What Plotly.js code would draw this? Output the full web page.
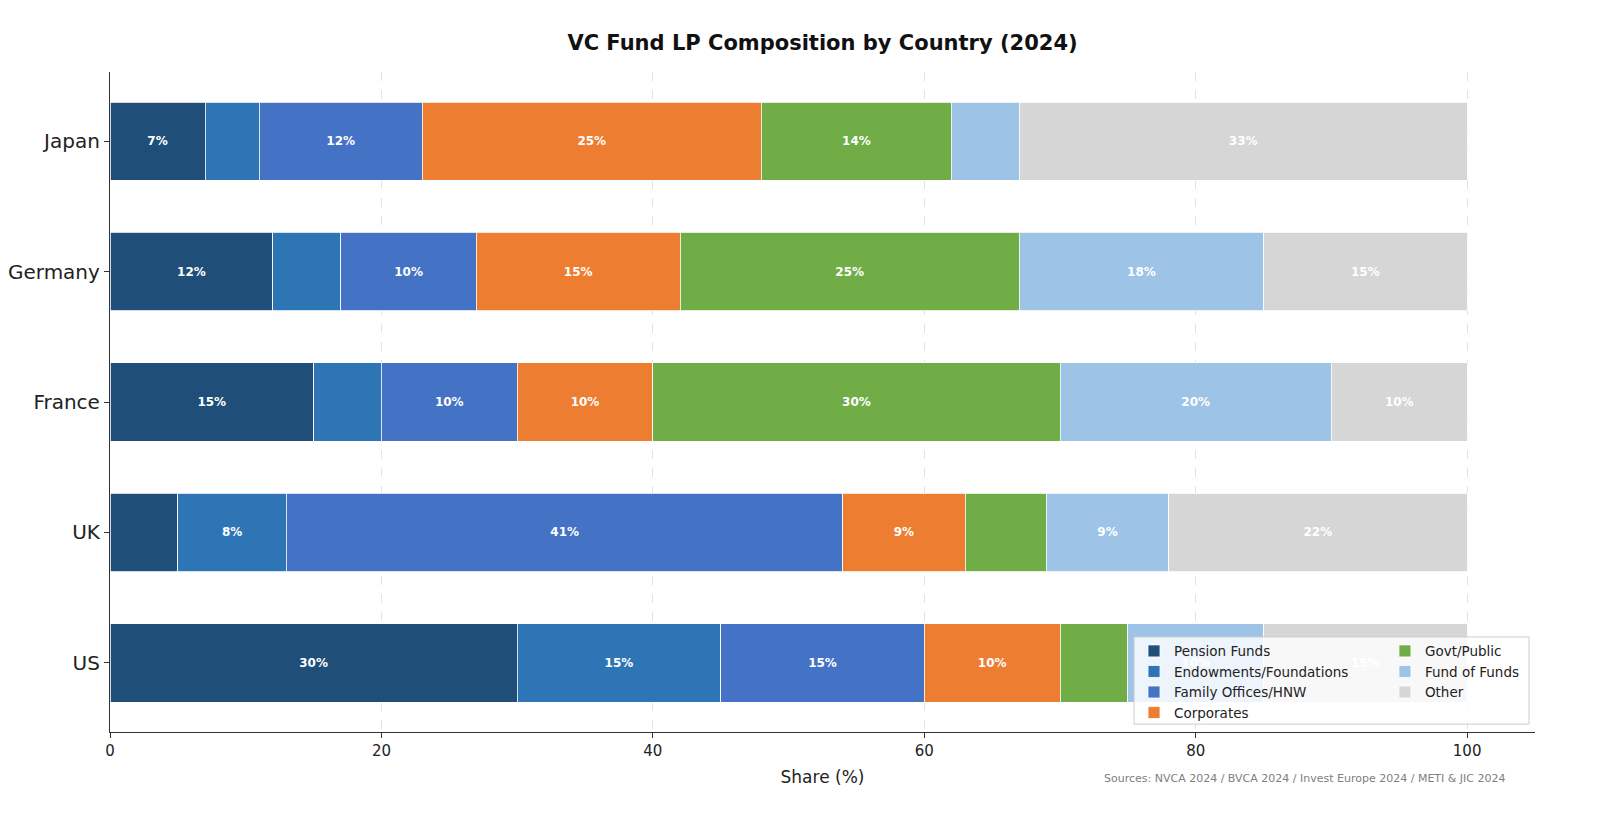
<!DOCTYPE html>
<html>
<head>
<meta charset="utf-8">
<script src="https://cdn.plot.ly/plotly-3.0.1.min.js"></script>
<style>
  html, body { margin: 0; padding: 0; background: #fff; }
  #chart { width: 1600px; height: 824px; }
</style>
</head>
<body>
<div id="chart"></div>
<script>
// countries, bottom to top
const countries = ["US", "UK", "France", "Germany", "Japan"];

const lpTypes = ["Pension Funds", "Endowments/Foundations", "Family Offices/HNW",
                 "Corporates", "Govt/Public", "Fund of Funds", "Other"];
const lpColors = ["#1f4e79", "#2e75b6", "#4472c4", "#ed7d31", "#70ad47", "#9dc3e6", "#d6d6d6"];

// share (%) per LP type, same order as countries
const pensionFunds = [30, 5, 15, 12, 7];
const endowments   = [15, 8, 5, 5, 4];
const familyOffices = [15, 41, 10, 10, 12];
const corporates   = [10, 9, 10, 15, 25];
const govtPublic   = [5, 6, 30, 25, 14];
const fundOfFunds  = [10, 9, 20, 18, 5];
const other        = [15, 22, 10, 15, 33];

const seriesValues = [pensionFunds, endowments, familyOffices, corporates,
                      govtPublic, fundOfFunds, other];

const font = "DejaVu Sans, Verdana, sans-serif";

// only label segments wide enough to hold the text
const traces = seriesValues.map((vals, i) => ({
    type: "bar",
    orientation: "h",
    name: lpTypes[i],
    y: countries,
    x: vals,
    width: 0.6,
    marker: { color: lpColors[i], line: { color: "#ffffff", width: 0.8 } },
    text: vals.map(v => v >= 7 ? v + "%" : ""),
    textposition: "inside",
    insidetextanchor: "middle",
    textangle: 0,
    constraintext: "none",
    textfont: { family: font, size: 12, color: "#ffffff", weight: "bold" },
    legend: i < 4 ? "legend" : "legend2",
    hovertemplate: "%{y}: %{x}%<extra>" + lpTypes[i] + "</extra>"
}));

const legendFont = { family: font, size: 13.5, color: "#222" };

// legend box (both legend columns sit inside it)
const boxX0 = 0.7186, boxX1 = 0.9958, boxY0 = 0.012, boxY1 = 0.144;

const layout = {
    width: 1600,
    height: 824,
    barmode: "stack",
    paper_bgcolor: "#ffffff",
    plot_bgcolor: "#ffffff",
    margin: { l: 110, r: 65, t: 72, b: 92 },
    font: { family: font, color: "#222" },
    title: {
        text: "<b>VC Fund LP Composition by Country (2024)</b>",
        font: { family: font, size: 21, color: "#111" },
        x: 0.5, xref: "paper", xanchor: "center",
        y: 1 - 43 / 824, yanchor: "middle"
    },
    xaxis: {
        range: [0, 105],
        tickvals: [0, 20, 40, 60, 80, 100],
        ticks: "outside", ticklen: 5, tickcolor: "#333",
        tickfont: { family: font, size: 15, color: "#222" },
        showline: true, linecolor: "#333", linewidth: 1.2,
        showgrid: true, gridcolor: "#e3e3e3", griddash: "dash", gridwidth: 1,
        zeroline: false,
        title: { text: "Share (%)", font: { family: font, size: 17, color: "#222" }, standoff: 12 }
    },
    yaxis: {
        range: [-0.53, 4.53],
        ticks: "outside", ticklen: 5, tickcolor: "#333",
        tickfont: { family: font, size: 20, color: "#222" },
        showline: true, linecolor: "#333", linewidth: 1.2,
        showgrid: false, zeroline: false
    },
    legend: {
        x: boxX0, y: boxY1 + 0.002, xanchor: "left", yanchor: "top",
        bgcolor: "rgba(0,0,0,0)", font: legendFont, tracegroupgap: 0,
        traceorder: "normal"
    },
    legend2: {
        x: 0.8947, y: boxY1 + 0.002, xanchor: "left", yanchor: "top",
        bgcolor: "rgba(0,0,0,0)", font: legendFont, tracegroupgap: 0,
        traceorder: "normal"
    },
    shapes: [{
        type: "rect", xref: "paper", yref: "paper",
        x0: boxX0, x1: boxX1, y0: boxY0, y1: boxY1,
        fillcolor: "rgba(255,255,255,0.82)",
        line: { color: "#cccccc", width: 1 },
        layer: "above"
    }],
    annotations: [{
        text: "Sources: NVCA 2024 / BVCA 2024 / Invest Europe 2024 / METI & JIC 2024",
        xref: "paper", yref: "paper", x: 0.981, y: -0.071,
        xanchor: "right", yanchor: "middle", showarrow: false,
        font: { family: font, size: 11, color: "#808080" }
    }]
};

Plotly.newPlot("chart", traces, layout, { displayModeBar: false, responsive: false });
</script>
</body>
</html>
